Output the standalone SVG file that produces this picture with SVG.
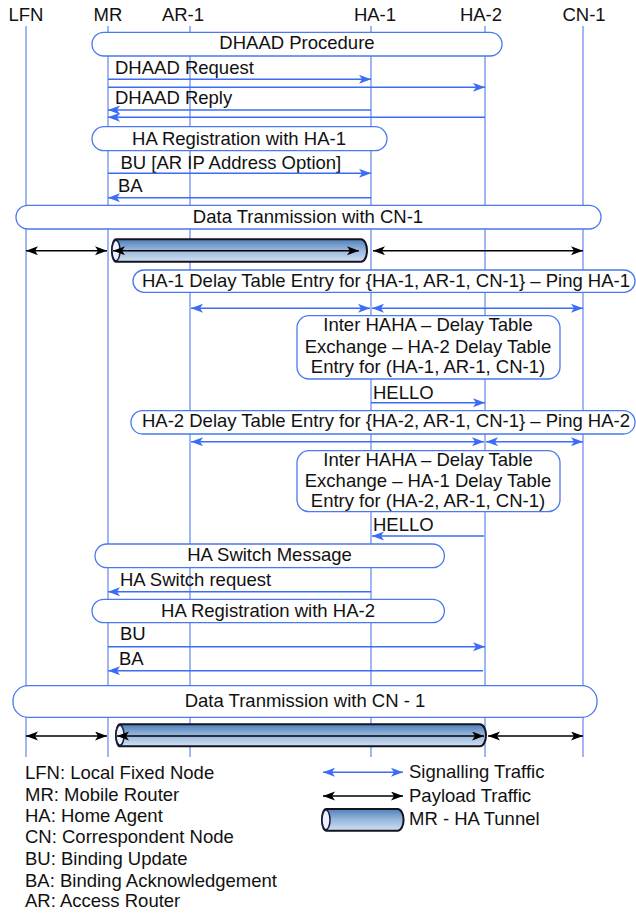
<svg xmlns="http://www.w3.org/2000/svg" width="636" height="914" viewBox="0 0 636 914">
<defs>
<style>
text{font-family:"Liberation Sans",Arial,sans-serif;font-size:18.5px;fill:#111}
.mid{text-anchor:middle}
.life{stroke:#6f8ff0;stroke-width:1.3;fill:none}
.box{fill:#fff;stroke:#4a78f0;stroke-width:1.3}
.sig{stroke:#3b6cf6;stroke-width:1.5;fill:none}
.pay{stroke:#000;stroke-width:1.5;fill:none}
.tun{fill:url(#tg);stroke:#141420;stroke-width:2}
.tend{fill:#eef3fc;stroke:#1a1a40;stroke-width:1.5}
</style>
<linearGradient id="tg" x1="0" y1="0" x2="0" y2="1">
<stop offset="0" stop-color="#4f7fb9"/>
<stop offset="0.45" stop-color="#93b3da"/>
<stop offset="1" stop-color="#d2e0f2"/>
</linearGradient>
<marker id="ab" markerUnits="userSpaceOnUse" markerWidth="13" markerHeight="10" refX="12" refY="4.5" orient="auto-start-reverse" viewBox="0 0 13 10">
<path d="M0,0 L12,4.5 L0,9 L3,4.5 Z" fill="#3b6cf6"/>
</marker>
<marker id="ak" markerUnits="userSpaceOnUse" markerWidth="13" markerHeight="10" refX="12" refY="4.5" orient="auto-start-reverse" viewBox="0 0 13 10">
<path d="M0,0 L12,4.5 L0,9 L3,4.5 Z" fill="#000"/>
</marker>
</defs>

<g id="lifelines">
<g id="LFN"><text class="mid" x="26" y="21">LFN</text><line class="life" x1="26" y1="26" x2="26" y2="757"/></g>
<g id="MR"><text class="mid" x="108" y="21">MR</text><line class="life" x1="108" y1="26" x2="108" y2="757"/></g>
<g id="AR-1"><text class="mid" x="183" y="21">AR-1</text><line class="life" x1="190" y1="26" x2="190" y2="757"/></g>
<g id="HA-1"><text class="mid" x="375" y="21">HA-1</text><line class="life" x1="371" y1="26" x2="371" y2="757"/></g>
<g id="HA-2"><text class="mid" x="481" y="21">HA-2</text><line class="life" x1="485" y1="26" x2="485" y2="757"/></g>
<g id="CN-1"><text class="mid" x="584" y="21">CN-1</text><line class="life" x1="583" y1="26" x2="583" y2="757"/></g>
</g>

<g id="boxes">
<g id="dhaad-proc"><rect class="box" x="92" y="32.3" width="410" height="23.7" rx="11.8"/><text class="mid" x="297" y="49">DHAAD Procedure</text></g>
<g id="reg-ha1"><rect class="box" x="92" y="126.7" width="295" height="24" rx="12"/><text class="mid" x="239" y="144.5">HA Registration with HA-1</text></g>
<g id="data1"><rect class="box" x="16" y="205.3" width="585" height="23.7" rx="11.8"/><text class="mid" x="308" y="223">Data Tranmission with CN-1</text></g>
<g id="ha1-delay"><rect class="box" x="133" y="270" width="502" height="22.3" rx="11"/><text class="mid" x="386" y="286.5">HA-1 Delay Table Entry for {HA-1, AR-1, CN-1} – Ping HA-1</text></g>
<g id="haha1"><rect class="box" x="297" y="315.7" width="263" height="63.3" rx="12"/>
<text class="mid" x="428" y="331">Inter HAHA – Delay Table</text>
<text class="mid" x="428" y="352.7">Exchange – HA-2 Delay Table</text>
<text class="mid" x="428" y="373.3">Entry for (HA-1, AR-1, CN-1)</text></g>
<g id="ha2-delay"><rect class="box" x="131" y="410.7" width="504" height="23.3" rx="11.5"/><text class="mid" x="386" y="427">HA-2 Delay Table Entry for {HA-2, AR-1, CN-1} – Ping HA-2</text></g>
<g id="haha2"><rect class="box" x="297" y="450.7" width="263" height="61" rx="12"/>
<text class="mid" x="428" y="465.5">Inter HAHA – Delay Table</text>
<text class="mid" x="428" y="486.5">Exchange – HA-1 Delay Table</text>
<text class="mid" x="428" y="507">Entry for (HA-2, AR-1, CN-1)</text></g>
<g id="switch-msg"><rect class="box" x="95" y="544" width="349.4" height="23.7" rx="11.8"/><text class="mid" x="269.5" y="561">HA Switch Message</text></g>
<g id="reg-ha2"><rect class="box" x="92" y="599.3" width="352.4" height="23.4" rx="11.7"/><text class="mid" x="268" y="617">HA Registration with HA-2</text></g>
<g id="data2"><rect class="box" x="13" y="685.7" width="584" height="31.6" rx="15"/><text class="mid" x="305" y="707">Data Tranmission with CN - 1</text></g>
</g>

<g id="tunnels">
<g id="tunnel1"><path class="tun" d="M116,239.3 H361 A6,11.2 0 0 1 361,261.7 H116 A4,11.2 0 0 1 116,239.3 Z"/><ellipse class="tend" cx="116" cy="250.5" rx="4" ry="10.2"/></g>
<g id="tunnel2"><path class="tun" d="M120,724.3 H480 A6,11 0 0 1 480,746.3 H120 A4,11 0 0 1 120,724.3 Z"/><ellipse class="tend" cx="120" cy="735.3" rx="4" ry="10"/></g>
</g>

<g id="connectors">
<text x="115" y="73.5">DHAAD Request</text>
<line class="sig" x1="108" y1="79.3" x2="371" y2="79.3" marker-end="url(#ab)"/>
<line class="sig" x1="108" y1="87.3" x2="485" y2="87.3" marker-end="url(#ab)"/>
<text x="115" y="103.5">DHAAD Reply</text>
<line class="sig" x1="371" y1="110" x2="108" y2="110" marker-end="url(#ab)"/>
<line class="sig" x1="485" y1="117.3" x2="108" y2="117.3" marker-end="url(#ab)"/>
<text x="120.5" y="168.5">BU [AR IP Address Option]</text>
<line class="sig" x1="108" y1="173.3" x2="371" y2="173.3" marker-end="url(#ab)"/>
<text x="118" y="192">BA</text>
<line class="sig" x1="371" y1="197.7" x2="108" y2="197.7" marker-end="url(#ab)"/>

<line class="pay" x1="26" y1="250.7" x2="107" y2="250.7" marker-start="url(#ak)" marker-end="url(#ak)"/>
<line class="pay" x1="113" y1="250.7" x2="359" y2="250.7" marker-start="url(#ak)" marker-end="url(#ak)"/>
<line class="pay" x1="373" y1="250.7" x2="583" y2="250.7" marker-start="url(#ak)" marker-end="url(#ak)"/>

<line class="sig" x1="191" y1="308.3" x2="370" y2="308.3" marker-start="url(#ab)" marker-end="url(#ab)"/>
<line class="sig" x1="372" y1="308.3" x2="583" y2="308.3" marker-start="url(#ab)" marker-end="url(#ab)"/>
<text x="373" y="398.5">HELLO</text>
<line class="sig" x1="371" y1="402.7" x2="485" y2="402.7" marker-end="url(#ab)"/>
<line class="sig" x1="191" y1="441.7" x2="484" y2="441.7" marker-start="url(#ab)" marker-end="url(#ab)"/>
<line class="sig" x1="486" y1="441.7" x2="583" y2="441.7" marker-start="url(#ab)" marker-end="url(#ab)"/>
<text x="373" y="531">HELLO</text>
<line class="sig" x1="484" y1="536" x2="372" y2="536" marker-end="url(#ab)"/>
<text x="120" y="586">HA Switch request</text>
<line class="sig" x1="371" y1="591.7" x2="108" y2="591.7" marker-end="url(#ab)"/>
<text x="120" y="640">BU</text>
<line class="sig" x1="108" y1="646.7" x2="485" y2="646.7" marker-end="url(#ab)"/>
<text x="119" y="665">BA</text>
<line class="sig" x1="483" y1="670.7" x2="108" y2="670.7" marker-end="url(#ab)"/>

<line class="pay" x1="26" y1="736" x2="107" y2="736" marker-start="url(#ak)" marker-end="url(#ak)"/>
<line class="pay" x1="117" y1="736" x2="484" y2="736" marker-start="url(#ak)" marker-end="url(#ak)"/>
<line class="pay" x1="488" y1="736" x2="583" y2="736" marker-start="url(#ak)" marker-end="url(#ak)"/>
</g>

<g id="legend">
<text x="25" y="779.3">LFN: Local Fixed Node</text>
<text x="25" y="800.7">MR: Mobile Router</text>
<text x="25" y="822.3">HA: Home Agent</text>
<text x="25" y="843.3">CN: Correspondent Node</text>
<text x="25" y="865">BU: Binding Update</text>
<text x="25" y="886.7">BA: Binding Acknowledgement</text>
<text x="25" y="907.3">AR: Access Router</text>
<line class="sig" x1="323" y1="772.3" x2="403" y2="772.3" marker-start="url(#ab)" marker-end="url(#ab)"/>
<text x="409" y="778">Signalling Traffic</text>
<line class="pay" x1="323" y1="796" x2="403" y2="796" marker-start="url(#ak)" marker-end="url(#ak)"/>
<text x="409" y="802">Payload Traffic</text>
<path class="tun" d="M326,809 H397.6 A6,10.85 0 0 1 397.6,830.7 H326 A4,10.85 0 0 1 326,809 Z"/>
<ellipse class="tend" cx="326" cy="819.85" rx="4" ry="9.8"/>
<text x="409" y="825">MR - HA Tunnel</text>
</g>
</svg>
